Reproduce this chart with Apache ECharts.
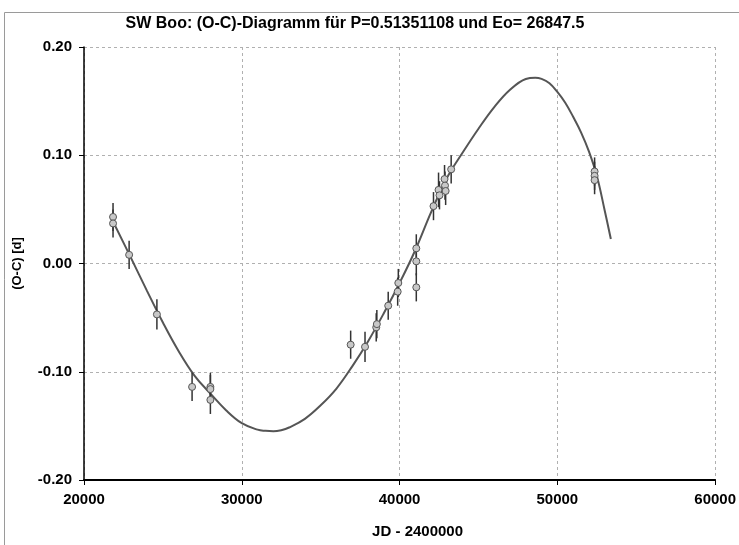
<!DOCTYPE html>
<html>
<head>
<meta charset="utf-8">
<script src="https://cdn.jsdelivr.net/npm/echarts@6/dist/echarts.min.js"></script>
<style>
html,body{margin:0;padding:0;background:#fff;}
#chart{width:739px;height:545px;}
</style>
</head>
<body>
<div id="chart"></div>
<script>
// Observed times of minima: JD - 2400000, O-C [d], error bar half-length [d]
var obsJD  = [21840, 21840, 22860, 24620, 26850, 28010, 28010, 28010, 36900, 37810, 38520, 38560, 39280, 39880, 39920, 41060, 41060, 41060, 42150, 42470, 42530, 42850, 42880, 42920, 43270, 52360, 52360, 52360];
var obsOC  = [0.043, 0.037, 0.008, -0.047, -0.114, -0.114, -0.116, -0.126, -0.075, -0.077, -0.059, -0.056, -0.039, -0.026, -0.018, 0.014, 0.002, -0.022, 0.053, 0.068, 0.063, 0.078, 0.072, 0.067, 0.087, 0.085, 0.081, 0.077];
var obsErr = [0.013, 0.013, 0.013, 0.014, 0.013, 0.013, 0.013, 0.013, 0.013, 0.014, 0.013, 0.013, 0.013, 0.013, 0.013, 0.013, 0.013, 0.013, 0.013, 0.016, 0.013, 0.013, 0.013, 0.013, 0.013, 0.013, 0.013, 0.013];

// Fitted curve
var fitJD = [21846, 23000, 24000, 25000, 26000, 27000, 28000, 29000, 30000, 31000, 31500, 32000, 32500, 33000, 34000, 35000, 36000, 37000, 38000, 39000, 40000, 41000, 42000, 43000, 44000, 45000, 46000, 47000, 48000, 48600, 49000, 49500, 50000, 50500, 51000, 51500, 52000, 52500, 53000, 53390];
var fitOC = [0.0386, 0.0045, -0.0255, -0.0545, -0.081, -0.1035, -0.120, -0.1355, -0.1475, -0.1535, -0.1546, -0.155, -0.154, -0.1515, -0.1435, -0.131, -0.1155, -0.095, -0.072, -0.046, -0.018, 0.0125, 0.0475, 0.079, 0.1025, 0.1245, 0.1445, 0.1605, 0.1705, 0.1716, 0.1705, 0.1665, 0.1585, 0.1485, 0.1355, 0.1212, 0.1035, 0.081, 0.049, 0.0226];

var xTicks = [20000, 30000, 40000, 50000, 60000];
var yTicks = [-0.20, -0.10, 0.00, 0.10, 0.20];

var titleText = 'SW Boo: (O-C)-Diagramm für P=0.51351108 und Eo= 26847.5';
var xName = 'JD - 2400000';
var yName = '(O-C) [d]';

var obsData = obsJD.map(function (x, i) { return [x, obsOC[i], obsErr[i]]; });
var fitData = fitJD.map(function (x, i) { return [x, fitOC[i]]; });

var chart = echarts.init(document.getElementById('chart'), null, {renderer: 'canvas'});
var FONT = '"Liberation Sans", Arial, sans-serif';

chart.setOption({
  animation: false,
  backgroundColor: '#ffffff',
  title: {
    text: titleText,
    left: 350, top: 11, textAlign: 'center',
    textStyle: {fontFamily: FONT, fontWeight: 'bold', fontSize: 16, color: '#000'}
  },
  graphic: [{
    type: 'rect', silent: true, z: -1,
    shape: {x: 4.5, y: 12.5, width: 900, height: 700},
    style: {fill: 'none', stroke: '#9a9a9a', lineWidth: 1}
  }],
  grid: {left: 84, right: 20, top: 47, bottom: 65, containLabel: false},
  xAxis: {
    type: 'value', min: xTicks[0], max: xTicks[xTicks.length - 1], interval: 10000,
    name: xName, nameLocation: 'middle', nameGap: 44,
    nameTextStyle: {fontFamily: FONT, fontWeight: 'bold', fontSize: 15, color: '#000', padding: [0, 0, 0, 36]},
    axisLine: {show: true, onZero: false, lineStyle: {color: '#000', width: 2}},
    axisTick: {show: true, inside: false, length: 5, lineStyle: {color: '#000'}},
    axisLabel: {fontFamily: FONT, fontWeight: 'bold', fontSize: 15, color: '#000', margin: 12,
      formatter: function (v) { return String(v); }},
    splitLine: {show: true, lineStyle: {color: '#b0b0b0', type: [3, 3], width: 1}}
  },
  yAxis: {
    type: 'value', min: yTicks[0], max: yTicks[yTicks.length - 1], interval: 0.1,
    name: yName, nameLocation: 'middle', nameGap: 60, nameRotate: 90,
    nameTextStyle: {fontFamily: FONT, fontWeight: 'bold', fontSize: 13, color: '#000'},
    axisLine: {show: true, onZero: false, lineStyle: {color: '#000', width: 1.5}},
    axisTick: {show: true, inside: false, length: 5, lineStyle: {color: '#000'}},
    axisLabel: {fontFamily: FONT, fontWeight: 'bold', fontSize: 15, color: '#000', margin: 12,
      formatter: function (v) { return v.toFixed(2); }},
    splitLine: {show: true, lineStyle: {color: '#b0b0b0', type: [3, 3], width: 1}}
  },
  series: [
    {
      type: 'line', data: fitData, smooth: 0.4, showSymbol: false, symbol: 'none',
      lineStyle: {color: '#555555', width: 2}, z: 2
    },
    {
      type: 'custom', z: 3,
      data: obsData,
      renderItem: function (params, api) {
        var x = api.value(0), y = api.value(1), e = api.value(2);
        var p1 = api.coord([x, y + e]);
        var p2 = api.coord([x, y - e]);
        return {
          type: 'line',
          shape: {x1: p1[0], y1: p1[1], x2: p2[0], y2: p2[1]},
          style: {stroke: '#333333', lineWidth: 1.5}
        };
      }
    },
    {
      type: 'scatter', data: obsData, symbol: 'circle', symbolSize: 7, z: 4,
      itemStyle: {color: '#c8c8c8', borderColor: '#555555', borderWidth: 1, opacity: 1}
    }
  ]
});
</script>
</body>
</html>
